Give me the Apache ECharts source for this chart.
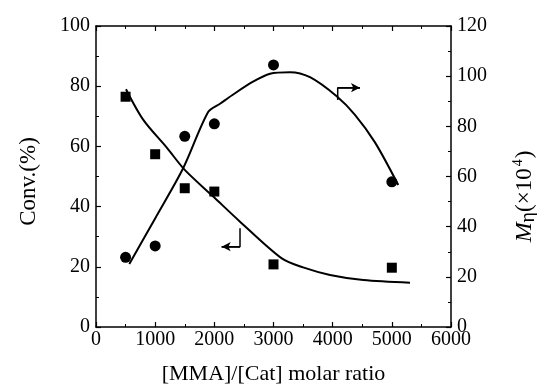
<!DOCTYPE html>
<html><head><meta charset="utf-8">
<script src="https://cdn.jsdelivr.net/npm/echarts@6/dist/echarts.min.js"></script>
<style>html,body{margin:0;padding:0;background:#fff}#c{width:537px;height:387px}</style>
</head><body><div id="c"></div>
<script>
// Measured data
const ratios = [500, 1000, 1500, 2000, 3000, 5000];
const convValues = [76.5, 57.4, 46.1, 45.0, 20.8, 19.7];      // squares, left axis
const mEtaValues = [27.8, 32.3, 76.0, 81.0, 104.5, 57.9];     // circles, right axis
const convFitX = [507, 800, 1200, 1500, 2000, 2434, 3140, 3500, 3955, 4518, 5307];
const convFitY = [79.0, 68.8, 59.5, 52.2, 43.0, 35.0, 22.8, 19.8, 17.3, 15.6, 14.7];
const mEtaFitX = [563, 1014, 1475, 1898, 2096, 2300, 2653, 2941, 3279, 3617, 4068, 4377, 4715, 5109];
const mEtaFitY = [25.1, 43.9, 63.4, 85.8, 89.0, 92.4, 97.8, 101.0, 101.6, 99.6, 92.0, 84.6, 73.6, 56.6];
const xTicks = [0, 1000, 2000, 3000, 4000, 5000, 6000];
const leftTicks = [0, 20, 40, 60, 80, 100];
const rightTicks = [0, 20, 40, 60, 80, 100, 120];
// annotation arrows (data coords on left axis)
const arrowRight = [[4085, 75.4], [4085, 79.5], [4462, 79.5]];
const arrowLeft = [[2434, 32.8], [2434, 26.7], [2124, 26.7]];

const font = "'Liberation Serif','Times New Roman',serif";
const zip = (a, b) => a.map((v, i) => [v, b[i]]);
const chart = echarts.init(document.getElementById('c'));
const axisCommon = {
  axisLine: {show: true, onZero: false, lineStyle: {color: '#000', width: 1.5}},
  axisTick: {show: true, inside: true, length: 5, lineStyle: {color: '#000', width: 1.2}},
  minorTick: {show: true, splitNumber: 2, length: 3, lineStyle: {color: '#000', width: 1}},
  splitLine: {show: false},
  axisLabel: {color: '#000', fontFamily: font, fontSize: 20, formatter: v => String(v)},
  nameTextStyle: {color: '#000', fontFamily: font, fontSize: 22}
};
chart.setOption({
  animation: false,
  backgroundColor: '#fff',
  grid: {left: 96, right: 86, top: 26, bottom: 60, containLabel: false, outerBoundsMode: 'none'},
  xAxis: [
    Object.assign({}, axisCommon, {
      type: 'value', min: xTicks[0], max: xTicks[xTicks.length - 1], interval: 1000, position: 'bottom',
      name: '[MMA]/[Cat] molar ratio', nameLocation: 'middle', nameGap: 36,
      axisLabel: Object.assign({}, axisCommon.axisLabel, {margin: 3})
    }),
    Object.assign({}, axisCommon, {
      type: 'value', min: 0, max: 6000, interval: 1000, position: 'top',
      axisLabel: {show: false}
    })
  ],
  yAxis: [
    Object.assign({}, axisCommon, {
      type: 'value', min: leftTicks[0], max: leftTicks[leftTicks.length - 1], interval: 20, position: 'left',
      name: 'Conv.(%)', nameLocation: 'middle', nameGap: 56, nameRotate: 90,
      nameTextStyle: {color: '#000', fontFamily: font, fontSize: 23, padding: [0, 10, 0, 0]},
      axisLabel: Object.assign({}, axisCommon.axisLabel, {margin: 6})
    }),
    Object.assign({}, axisCommon, {
      type: 'value', min: rightTicks[0], max: rightTicks[rightTicks.length - 1], interval: 20, position: 'right',
      name: '{i|M}{sub|η}{n|(×10}{sup|4}{n|)}', nameLocation: 'middle', nameGap: 60, nameRotate: 90,
      nameTextStyle: {
        color: '#000', fontFamily: font, fontSize: 22, padding: [0, 40, 0, 0],
        rich: {
          i: {fontFamily: font, fontSize: 24, fontStyle: 'italic', color: '#000', lineHeight: 28, verticalAlign: 'middle'},
          sub: {fontFamily: font, fontSize: 20, color: '#000', lineHeight: 28, verticalAlign: 'bottom', padding: [8, 0, 0, 0]},
          n: {fontFamily: font, fontSize: 23, color: '#000', lineHeight: 28, verticalAlign: 'middle'},
          sup: {fontFamily: font, fontSize: 14, color: '#000', lineHeight: 28, verticalAlign: 'top', padding: [0, 1, 10, 2]}
        }
      },
      axisLabel: Object.assign({}, axisCommon.axisLabel, {margin: 6})
    })
  ],
  series: [
    {type: 'line', data: zip(convFitX, convFitY), yAxisIndex: 0, showSymbol: false, smooth: 0.3,
     lineStyle: {color: '#000', width: 2}, z: 2},
    {type: 'line', data: zip(mEtaFitX, mEtaFitY), yAxisIndex: 1, showSymbol: false, smooth: 0.3,
     lineStyle: {color: '#000', width: 2}, z: 2},
    {type: 'scatter', data: zip(ratios, convValues), yAxisIndex: 0, symbol: 'rect', symbolSize: 10,
     itemStyle: {color: '#000', opacity: 1}, z: 3},
    {type: 'scatter', data: zip(ratios, mEtaValues), yAxisIndex: 1, symbol: 'circle', symbolSize: 11,
     itemStyle: {color: '#000', opacity: 1}, z: 3},
    {type: 'line', data: arrowRight, yAxisIndex: 0, showSymbol: false, lineStyle: {color: '#000', width: 1.5},
     markLine: {silent: true, symbol: ['none', 'arrow'], symbolSize: [7, 9], label: {show: false},
       lineStyle: {color: '#000', width: 1.5, type: 'solid'},
       data: [[{coord: arrowRight[1]}, {coord: arrowRight[2]}]]}},
    {type: 'line', data: arrowLeft, yAxisIndex: 0, showSymbol: false, lineStyle: {color: '#000', width: 1.5},
     markLine: {silent: true, symbol: ['none', 'arrow'], symbolSize: [7, 9], label: {show: false},
       lineStyle: {color: '#000', width: 1.5, type: 'solid'},
       data: [[{coord: arrowLeft[1]}, {coord: arrowLeft[2]}]]}}
  ]
});
</script></body></html>
